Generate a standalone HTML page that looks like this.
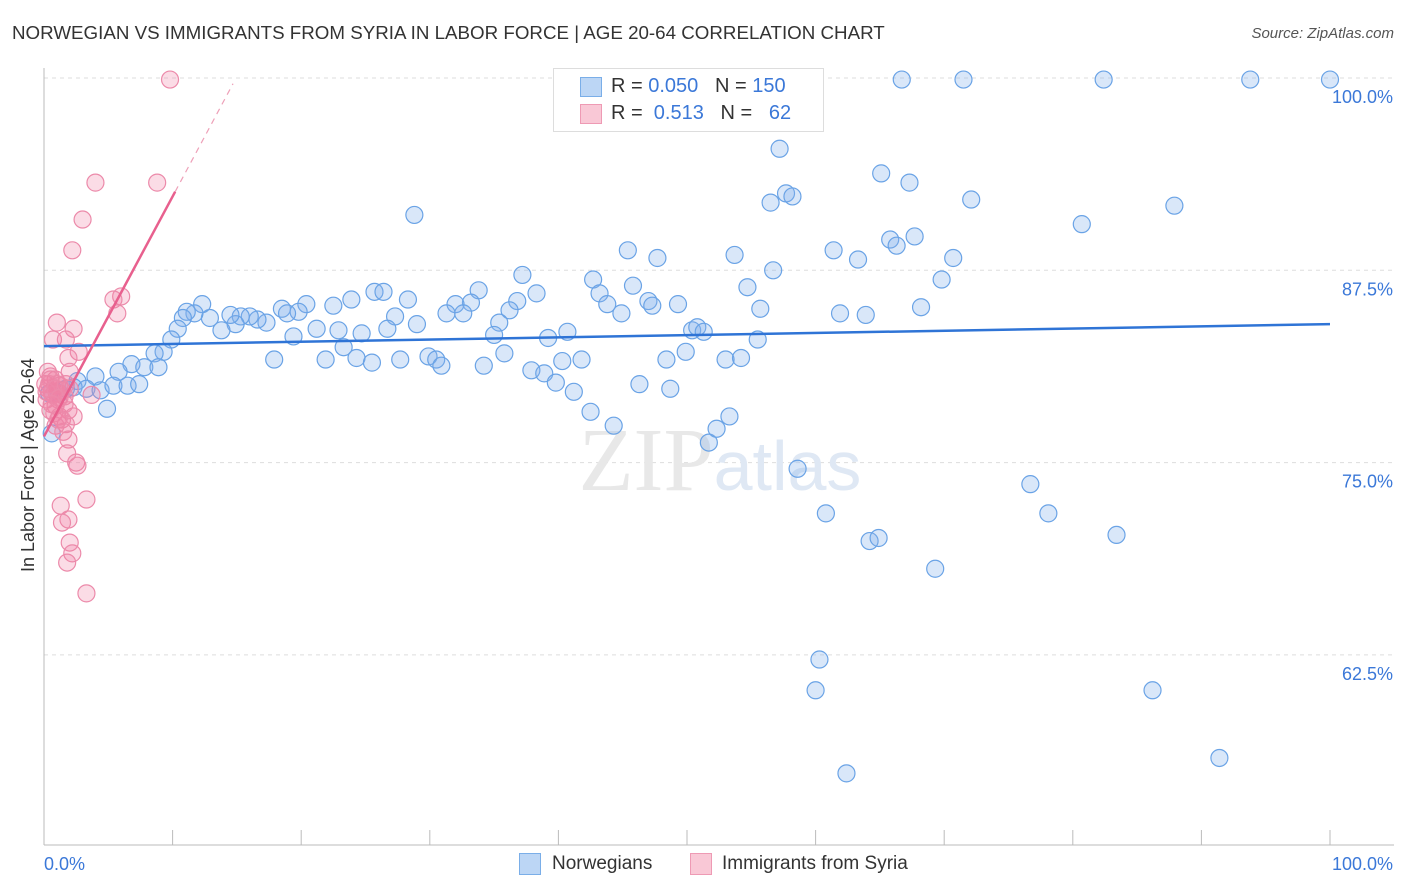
<!DOCTYPE html>
<html><head><meta charset="utf-8">
<style>
body{margin:0;background:#fff;font-family:"Liberation Sans",sans-serif;}
#wrap{position:relative;width:1406px;height:892px;overflow:hidden;}
.t{position:absolute;white-space:nowrap;}
</style></head>
<body>
<div id="wrap">
<div class="t" style="left:12px;top:22px;font-size:18.75px;color:#333;">NORWEGIAN VS IMMIGRANTS FROM SYRIA IN LABOR FORCE | AGE 20-64 CORRELATION CHART</div>
<div class="t" style="right:12px;top:25px;font-size:15px;color:#555;font-style:italic;">Source: ZipAtlas.com</div>
<div class="t" style="left:18px;top:572px;font-size:18px;color:#333;transform:rotate(-90deg);transform-origin:0 0;">In Labor Force | Age 20-64</div>
<svg id="svg" width="1406" height="892" style="position:absolute;left:0;top:0"></svg>
</div>
<script>
const xTickVals=[0,10,20,30,40,50,60,70,80,90,100];
const yTickVals=[100,87.5,75,62.5];
const yTickLabels=["100.0%","87.5%","75.0%","62.5%"];
const blueX=[66.7,71.5,82.4,93.8,100,57.2,28.8,65.1,67.3,56.5,57.7,58.2,72.1,87.9,80.7,45.4,47.7,53.7,61.4,65.8,66.3,67.7,70.7,63.3,37.2,42.7,56.7,69.8,45.8,54.7,43.2,43.8,44.9,47.0,47.3,49.3,55.7,61.9,63.9,68.2,33.8,38.3,36.8,36.2,35.4,33.2,32.0,31.3,32.6,25.7,26.4,28.3,23.9,22.5,20.4,19.8,18.5,18.9,27.3,29.0,26.7,24.7,22.9,21.2,19.4,17.3,16.6,16.0,15.3,14.9,14.5,13.8,12.9,12.3,11.7,11.1,10.8,10.4,9.9,9.3,8.6,23.3,24.3,21.9,17.9,25.5,27.7,29.9,30.5,30.9,34.2,35.8,37.9,38.9,39.8,40.3,41.8,39.2,40.7,35.0,46.3,48.4,48.7,49.9,50.4,50.8,51.3,53.0,54.2,55.5,41.2,42.5,44.3,51.7,52.3,53.3,58.6,60.8,64.2,64.9,69.3,76.7,78.1,83.4,60.3,60.0,62.4,86.2,91.4,6.8,7.8,8.9,5.8,4.0,2.6,2.3,3.3,4.4,5.4,6.5,7.4,4.9,1.7,1.2,0.6,0.4];
const blueY=[99.9,99.9,99.9,99.9,99.9,95.4,91.1,93.8,93.2,91.9,92.5,92.3,92.1,91.7,90.5,88.8,88.3,88.5,88.8,89.5,89.1,89.7,88.3,88.2,87.2,86.9,87.5,86.9,86.5,86.4,86.0,85.3,84.7,85.5,85.2,85.3,85.0,84.7,84.6,85.1,86.2,86.0,85.5,84.9,84.1,85.4,85.3,84.7,84.7,86.1,86.1,85.6,85.6,85.2,85.3,84.8,85.0,84.7,84.5,84.0,83.7,83.4,83.6,83.7,83.2,84.1,84.3,84.5,84.5,84.0,84.6,83.6,84.4,85.3,84.7,84.8,84.4,83.7,83.0,82.2,82.1,82.5,81.8,81.7,81.7,81.5,81.7,81.9,81.7,81.3,81.3,82.1,81.0,80.8,80.2,81.6,81.7,83.1,83.5,83.3,80.1,81.7,79.8,82.2,83.6,83.8,83.5,81.7,81.8,83.0,79.6,78.3,77.4,76.3,77.2,78.0,74.6,71.7,69.9,70.1,68.1,73.6,71.7,70.3,62.2,60.2,54.8,60.2,55.8,81.4,81.2,81.2,80.9,80.6,80.3,79.9,79.8,79.7,80.0,80.0,80.1,78.5,79.8,79.5,76.9,79.5];
const pinkX=[9.8,4.0,8.8,3.0,2.2,6.0,5.4,5.7,1.0,2.3,0.7,1.7,2.7,1.9,2.0,0.5,0.9,1.2,0.1,0.3,0.6,1.0,1.4,1.6,1.1,0.9,1.9,2.3,1.4,1.7,0.9,1.5,1.9,1.8,2.5,2.6,3.3,1.3,1.9,1.4,2.0,2.2,1.8,3.3,0.5,0.2,0.8,1.2,3.7,0.3,0.5,1.0,1.6,1.1,0.7,0.4,0.2,0.9,1.2,1.7,0.6,2.0];
const pinkY=[99.9,93.2,93.2,90.8,88.8,85.8,85.6,84.7,84.1,83.7,83.0,83.0,82.2,81.8,80.9,80.6,80.4,80.0,80.1,79.8,79.6,79.5,79.7,79.3,79.1,78.7,78.4,78.0,77.8,77.5,77.4,77.0,76.5,75.6,75.0,74.8,72.6,72.2,71.3,71.1,69.8,69.1,68.5,66.5,78.4,79.1,78.2,78.0,79.4,80.9,80.4,80.1,78.8,77.8,79.4,80.1,79.6,79.8,79.2,80.1,78.8,79.8];
const blueTrend=[82.57,84.0];
const pinkTrend=[76.7,1.56];

const X=v=>44+v*12.86, Y=v=>78+(100-v)*15.384;
const svg=document.getElementById('svg');
const NS='http://www.w3.org/2000/svg';
function mk(tag,attrs,parent){const e=document.createElementNS(NS,tag);for(const k in attrs)e.setAttribute(k,attrs[k]);(parent||svg).appendChild(e);return e;}
yTickVals.forEach((v,i)=>{
 const g=mk('line',{x1:44,x2:1394,y1:Y(v),y2:Y(v),stroke:'#ddd','stroke-dasharray':'4,4'});
 
 
 const t=mk('text',{x:1393,y:Y(v)+25,'text-anchor':'end','font-size':18,fill:'#3b78d8','font-family':'Liberation Sans'});
 t.textContent=yTickLabels[i];
 
 
});
const wm=mk('text',{x:720,y:490,'text-anchor':'middle','font-size':90,fill:'#e8e8e8','font-family':'Liberation Serif'});
wm.innerHTML='ZIP<tspan fill="#dfe8f4" font-family="Liberation Sans" font-size="70">atlas</tspan>';


const ax=mk('line',{x1:44,x2:44,y1:68,y2:845,stroke:'#bbb'});


const bx=mk('line',{x1:44,x2:1394,y1:845,y2:845,stroke:'#bbb'});


xTickVals.forEach(v=>{
 const l=mk('line',{x1:X(v),x2:X(v),y1:830,y2:845,stroke:'#bbb'});
 
 
});
[['0.0%',44,'start'],['100.0%',1393,'end']].forEach(a=>{
 const t=mk('text',{x:a[1],y:870,'text-anchor':a[2],'font-size':18,fill:'#3b78d8','font-family':'Liberation Sans'});
 t.textContent=a[0];
 
 
});
blueX.forEach((x,i)=>{
 const c=mk('circle',{cx:X(x),cy:Y(blueY[i]),r:8.5,fill:'rgba(130,175,235,0.3)',stroke:'#6aa3e6','stroke-width':1.2});
 
 
});
pinkX.forEach((x,i)=>{
 const c=mk('circle',{cx:X(x),cy:Y(pinkY[i]),r:8.5,fill:'rgba(240,130,165,0.28)',stroke:'#ec8aaa','stroke-width':1.2});
 
 
});
const bl=mk('line',{x1:X(0),y1:Y(blueTrend[0]),x2:X(100),y2:Y(blueTrend[1]),stroke:'#2f74d6','stroke-width':2.5});


const pe=10.2, pd=14.7;
const pl=mk('line',{x1:X(0),y1:Y(pinkTrend[0]),x2:X(pe),y2:Y(pinkTrend[0]+pinkTrend[1]*pe),stroke:'#e8608e','stroke-width':2.5});


const pl2=mk('line',{x1:X(pe),y1:Y(pinkTrend[0]+pinkTrend[1]*pe),x2:X(pd),y2:Y(pinkTrend[0]+pinkTrend[1]*pd),stroke:'#eea0b8','stroke-width':1.2,'stroke-dasharray':'6,5'});


</script>
<div style="position:absolute;left:553px;top:68px;width:269px;height:62px;border:1px solid #ddd;background:#fff;font-size:20px;">
 <div style="position:absolute;left:26px;top:8px;width:20px;height:18px;background:#bcd6f5;border:1px solid #7aaee8;"></div>
 <div class="t" style="left:57px;top:6px;color:#333;">R = <span style="color:#3b78d8">0.050</span>&nbsp;&nbsp;&nbsp;N = <span style="color:#3b78d8">150</span></div>
 <div style="position:absolute;left:26px;top:35px;width:20px;height:18px;background:#f9c8d6;border:1px solid #ee9ab4;"></div>
 <div class="t" style="left:57px;top:33px;color:#333;">R = &nbsp;<span style="color:#3b78d8">0.513</span>&nbsp;&nbsp;&nbsp;N = &nbsp;&nbsp;<span style="color:#3b78d8">62</span></div>
</div>
<div style="position:absolute;left:519px;top:853px;width:20px;height:20px;background:#bcd6f5;border:1px solid #7aaee8;"></div>
<div class="t" style="left:552px;top:853px;font-size:19px;color:#333;">Norwegians</div>
<div style="position:absolute;left:690px;top:853px;width:20px;height:20px;background:#f9c8d6;border:1px solid #ee9ab4;"></div>
<div class="t" style="left:722px;top:853px;font-size:19px;color:#333;">Immigrants from Syria</div>
</body></html>
